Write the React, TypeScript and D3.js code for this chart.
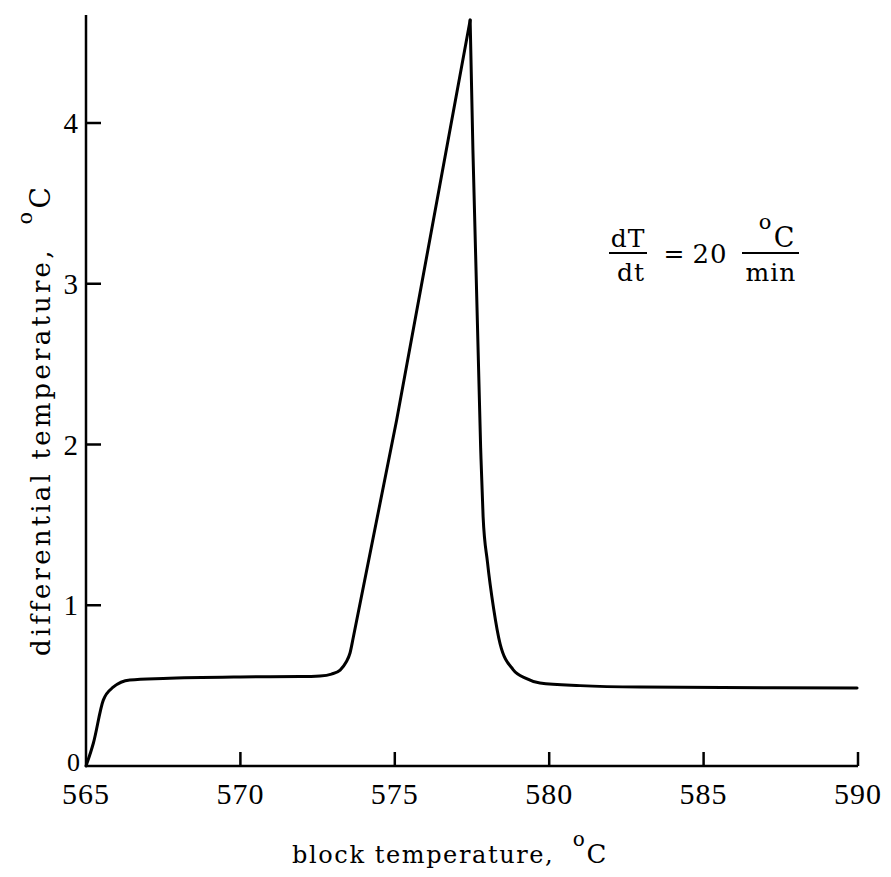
import React from "react";
import * as d3 from "d3";

const xTicks = [565, 570, 575, 580, 585, 590];
const yTicks = [0, 1, 2, 3, 4];

// rising branch (block temperature °C, differential temperature °C)
const riseTemp = [565.0, 565.24, 565.56, 565.88, 566.42, 567.5, 569.99, 571.93, 572.58, 572.95, 573.23, 573.42, 573.55, 573.66, 575.06, 577.44];
const riseDiff = [0.0, 0.143, 0.41, 0.49, 0.535, 0.545, 0.554, 0.556, 0.56, 0.572, 0.597, 0.645, 0.703, 0.804, 2.152, 4.64];

// falling branch
const fallTemp = [577.44, 577.53, 577.78, 577.86, 578.0, 578.2, 578.41, 578.83, 579.25, 579.7, 581.0, 582.94, 589.97];
const fallDiff = [4.64, 3.83, 1.98, 1.55, 1.27, 0.98, 0.76, 0.6, 0.545, 0.516, 0.5, 0.491, 0.485];

const W = 891;
const H = 877;

export default function App() {
  const x = d3.scaleLinear().domain([565, 590]).range([86, 858]);
  const y = d3.scaleLinear().domain([0, 4]).range([766, 123]);
  const line = d3
    .line<[number, number]>()
    .x((d) => x(d[0]))
    .y((d) => y(d[1]))
    .curve(d3.curveMonotoneX);
  const rise = line(riseTemp.map((t, i) => [t, riseDiff[i]] as [number, number])) || "";
  const fall = line(fallTemp.map((t, i) => [t, fallDiff[i]] as [number, number])) || "";
  const yTop = 15;
  const font = "'DejaVu Serif', serif";
  const numFont = "'Liberation Serif', serif";

  return (
    <svg
      width={W}
      height={H}
      style={{ position: "absolute", left: 0, top: 0, background: "#fff" }}
    >
      {/* axes */}
      <line x1={x(565)} x2={x(565)} y1={yTop} y2={y(0)} stroke="#000" strokeWidth={2.5} />
      <line x1={x(565)} x2={x(590)} y1={y(0)} y2={y(0)} stroke="#000" strokeWidth={2.5} />
      {xTicks.slice(1).map((t) => (
        <line key={"xt" + t} x1={x(t)} x2={x(t)} y1={y(0)} y2={y(0) - 14} stroke="#000" strokeWidth={2.5} />
      ))}
      {yTicks.slice(1).map((t) => (
        <line key={"yt" + t} x1={x(565)} x2={x(565) + 15} y1={y(t)} y2={y(t)} stroke="#000" strokeWidth={2.5} />
      ))}
      {xTicks.map((t) => (
        <text key={"xl" + t} x={x(t)} y={y(0) + 38} textAnchor="middle" fontFamily={numFont} fontSize={30} letterSpacing={1}>
          {t}
        </text>
      ))}
      {yTicks.map((t) => (
        <text
          key={"yl" + t}
          x={t === 0 ? 80 : 78}
          y={t === 0 ? y(t) + 5 : y(t) + 10}
          textAnchor="end"
          fontFamily={numFont}
          fontSize={t === 0 ? 26 : 29}
        >
          {t}
        </text>
      ))}

      {/* curve */}
      <path d={rise} fill="none" stroke="#000" strokeWidth={3} strokeLinejoin="round" strokeLinecap="round" />
      <path d={fall} fill="none" stroke="#000" strokeWidth={3} strokeLinejoin="round" strokeLinecap="round" />

      {/* x axis label */}
      <text x={450} y={863} textAnchor="middle" fontFamily={font} fontSize={24} letterSpacing={1.6}>
        block temperature,{"\u00a0\u00a0"}
        <tspan fontSize={20} dy={-17}>o</tspan>
        <tspan fontSize={26} dy={17}>C</tspan>
      </text>

      {/* y axis label */}
      <text
        transform={`translate(50, 420) rotate(-90)`}
        textAnchor="middle"
        fontFamily={font}
        fontSize={26}
        letterSpacing={3.2}
      >
        differential temperature,{"\u00a0\u00a0"}
        <tspan fontSize={21} dy={-18}>o</tspan>
        <tspan fontSize={28} dy={18}>C</tspan>
      </text>

      {/* rate annotation */}
      <g fontFamily={font} fontSize={25}>
        <text x={628} y={247} textAnchor="middle" letterSpacing={1}>dT</text>
        <line x1={609} x2={647} y1={253} y2={253} stroke="#000" strokeWidth={2} />
        <text x={631} y={281} textAnchor="middle" letterSpacing={1}>dt</text>
        <text x={674} y={262} textAnchor="middle">=</text>
        <text x={710} y={263} textAnchor="middle" fontSize={26} letterSpacing={1}>20</text>
        <text x={765} y={229} textAnchor="middle" fontSize={21}>o</text>
        <text x={784} y={247} textAnchor="middle" fontSize={27}>C</text>
        <line x1={742} x2={799} y1={253} y2={253} stroke="#000" strokeWidth={2} />
        <text x={771} y={281} textAnchor="middle" letterSpacing={1}>min</text>
      </g>
    </svg>
  );
}
